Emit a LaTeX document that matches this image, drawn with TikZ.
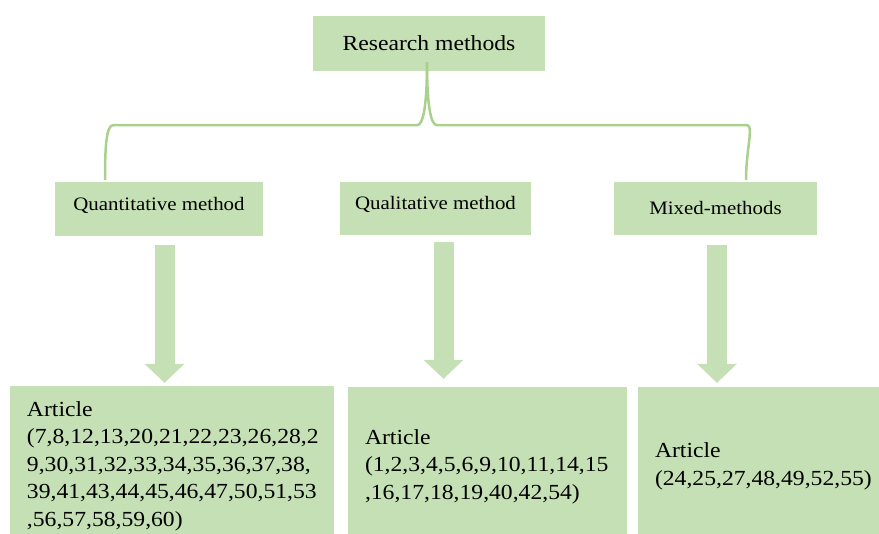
\documentclass[tikz,border=0pt]{standalone}
\usepackage{fontspec}
\setmainfont[FakeStretch=1.1]{Liberation Serif}
\usepackage{xcolor}
\usetikzlibrary{arrows.meta}
\definecolor{boxgreen}{HTML}{C5E0B4}
\definecolor{bracegreen}{HTML}{A9D18E}

\begin{document}
\begin{tikzpicture}[
        x=1pt, y=1pt,
        box/.style={
            rectangle,
            fill=boxgreen,
            inner sep=0pt,
            font=\fontsize{21.5}{27.5}\selectfont
        },
        method/.style={
            box,
            font=\fontsize{19}{23}\selectfont
        },
        article/.style={
            box,
            align=left,
            inner xsep=17pt,
            execute at begin node={\rule{0pt}{27pt}}
        },
        arrow/.style={
            draw=boxgreen,
            line width=20pt,
            -{Triangle[width=40pt, length=19pt, line width=0pt]}
        },
        brace/.style={
            draw=bracegreen,
            line width=2.5pt
        }
    ]
    \useasboundingbox (0,0) rectangle (879,534);
    % top level
    \node (research) [box, minimum width=232pt, minimum height=55pt] at (429,490.5) {Research methods};
    % methods
    \node (quant) [method, minimum width=208pt, minimum height=54pt, text height=15pt, text depth=12pt] at (159,325) {Quantitative method};
    \node (qual) [method, minimum width=191pt, minimum height=53pt, text height=15pt, text depth=12pt] at (435.5,325.5) {Qualitative method};
    \node (mixed) [method, minimum width=203pt, minimum height=53pt] at (715.5,325.5) {Mixed-methods};
    % articles
    \node (art1) [article, minimum width=324pt, minimum height=148pt, text width=290pt] at (172,74)
        {Article\\(7,8,12,13,20,21,22,23,26,28,2\\9,30,31,32,33,34,35,36,37,38,\\39,41,43,44,45,46,47,50,51,53\\,56,57,58,59,60)};
    \node (art2) [article, minimum width=279pt, minimum height=147pt, text width=245pt] at (487.5,73.5)
        {Article\\(1,2,3,4,5,6,9,10,11,14,15\\,16,17,18,19,40,42,54)};
    \node (art3) [article, minimum width=241pt, minimum height=147pt, text width=207pt] at (758.5,73.5)
        {Article\\(24,25,27,48,49,52,55)};
    % brace
    \coordinate (bracetop) at ([xshift=-2pt,yshift=9pt]research.south);
    \coordinate (braceleft) at ([xshift=-54pt,yshift=2pt]quant.north);
    \coordinate (braceright) at ([xshift=30.5pt,yshift=2pt]mixed.north);
    \draw[brace] (bracetop) .. controls +(0,-45) and +(6,0) .. ++(-10,-63) -- ++(-304,0)
        .. controls +(-7,0) and +(0,30) .. (braceleft);
    \draw[brace] (bracetop) .. controls +(0,-45) and +(-6,0) .. ++(10,-63) -- ++(310,0)
        .. controls +(7,0) and +(0,30) .. (braceright);
    % arrows
    \draw[arrow] ([xshift=5.5pt,yshift=-9pt]quant.south) -- ([xshift=5.5pt,yshift=3pt]quant.south |- art1.north);
    \draw[arrow] ([xshift=8pt,yshift=-7pt]qual.south) -- ([xshift=8pt,yshift=8pt]qual.south |- art2.north);
    \draw[arrow] ([xshift=1.5pt,yshift=-10pt]mixed.south) -- ([xshift=1.5pt,yshift=4pt]mixed.south |- art3.north);
\end{tikzpicture}
\end{document}
